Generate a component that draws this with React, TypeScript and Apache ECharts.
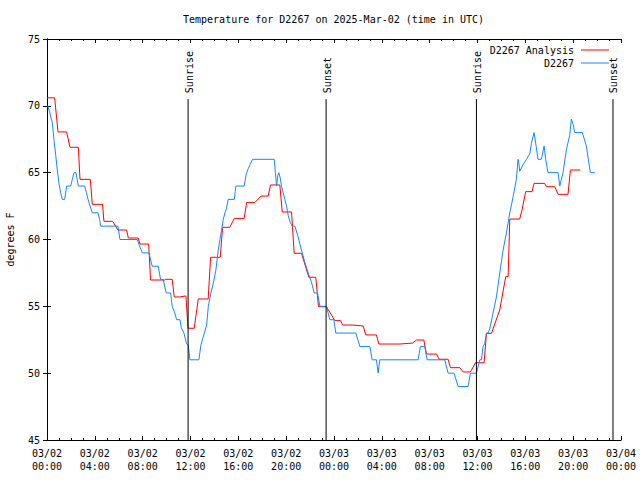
import React, { useEffect, useRef } from "react";
import * as echarts from "echarts";

const titleText = "Temperature for D2267 on 2025-Mar-02 (time in UTC)";
const seriesNames = ["D2267 Analysis", "D2267"];
const xTickLabels = [
  "03/02\n00:00", "03/02\n04:00", "03/02\n08:00", "03/02\n12:00", "03/02\n16:00", "03/02\n20:00",
  "03/03\n00:00", "03/03\n04:00", "03/03\n08:00", "03/03\n12:00", "03/03\n16:00", "03/03\n20:00",
  "03/04\n00:00",
];
const sunHours = [11.8, 23.34, 35.91, 47.33];
const sunLabels = ["Sunrise", "Sunset", "Sunrise", "Sunset"];

// [hours since 03/02 00:00 UTC, degrees F]
const analysisData: [number, number][] = [
  [0, 70.6], [0.64, 70.6], [0.92, 68.05], [1.64, 68.05], [1.92, 66.9], [2.62, 66.9], [2.76, 64.5],
  [3.62, 64.5], [3.79, 62.63], [4.65, 62.63], [4.76, 61.36], [5.49, 61.36], [5.93, 60.71], [6.66, 60.71],
  [6.8, 60.11], [7.63, 60.11], [7.77, 59.66], [8.5, 59.66], [8.66, 56.97], [9.83, 56.97], [9.9, 57.02],
  [10.47, 57.02], [10.64, 55.7], [11.12, 55.7], [11.53, 55.77], [11.62, 55.77], [11.79, 53.36],
  [12.31, 53.36], [12.65, 55.55], [13.48, 55.55], [13.68, 58.67], [14.49, 58.67], [14.68, 60.91],
  [15.29, 60.91], [15.66, 61.58], [16.49, 61.58], [16.69, 62.76], [17.38, 62.76], [17.89, 63.25],
  [18.5, 63.25], [18.69, 64.08], [19.47, 64.08], [19.67, 62.06], [20.45, 62.06], [20.67, 58.97],
  [21.28, 58.97], [21.9, 57.17], [22.48, 57.17], [22.7, 54.97], [23.37, 54.97], [24.08, 53.93],
  [24.55, 53.93], [24.72, 53.6], [25.6, 53.6], [26.44, 53.53], [26.66, 52.86], [27.55, 52.86],
  [27.75, 52.18], [29.5, 52.18], [30.56, 52.25], [30.9, 52.48], [31.51, 52.48], [31.73, 51.43],
  [32.57, 51.43], [32.79, 51.04], [33.54, 51.04], [33.74, 50.41], [34.52, 50.41], [34.8, 50.09],
  [35.41, 50.09], [35.83, 50.78], [36.55, 50.78], [36.75, 52.98], [37.17, 52.98], [37.86, 54.73],
  [38.36, 57.22], [38.56, 57.22], [38.7, 61.53], [39.53, 61.53], [39.72, 62.2], [40.03, 63.58],
  [40.56, 63.58], [40.73, 64.2], [41.62, 64.2], [41.76, 63.95], [42.46, 63.95], [42.74, 63.38],
  [43.57, 63.38], [43.77, 65.2], [44.6, 65.2],
];

const observedData: [number, number][] = [
  [0.05, 70], [0.2, 69.6], [0.45, 68.7], [0.59, 67.4], [0.73, 66.3], [0.86, 65.2], [1.0, 64.2],
  [1.14, 63.5], [1.28, 63], [1.48, 63], [1.64, 64], [1.98, 64], [2.12, 64.5], [2.26, 65], [2.42, 65],
  [2.52, 64.5], [2.62, 64], [3.15, 64], [3.3, 63.5], [3.43, 63], [3.6, 62.5], [3.79, 62], [4.26, 62],
  [4.4, 61.5], [4.49, 61], [5.93, 61], [6.1, 60], [7.55, 60], [7.7, 59.6], [7.97, 59], [8.52, 59],
  [8.8, 58], [9.3, 58], [9.5, 57], [9.72, 57], [9.97, 56], [10.34, 56], [10.47, 55], [10.65, 54.6],
  [10.84, 54], [11.12, 54], [11.23, 53.4], [11.45, 53], [11.67, 52.2], [11.81, 52.1], [11.95, 51],
  [12.7, 51], [12.87, 52.1], [13.12, 52.9], [13.35, 53.6], [13.49, 55], [13.71, 56], [13.9, 56.7],
  [14.12, 57.7], [14.32, 59.2], [14.46, 60], [14.6, 60.7], [14.74, 61.5], [14.88, 62], [15.0, 62.3],
  [15.15, 63], [15.66, 63], [15.74, 63.6], [15.8, 64], [16.49, 64], [16.66, 64.9], [16.83, 65.3],
  [16.98, 65.6], [17.19, 66], [19.0, 66], [19.1, 65], [19.2, 64], [19.3, 64.8], [19.39, 65],
  [19.5, 64.6], [19.61, 64], [19.89, 63], [20.03, 62.5], [20.17, 61.8], [20.33, 61.3], [20.5, 61],
  [20.73, 61], [21.0, 60.2], [21.28, 59.2], [21.56, 58.3], [21.84, 57.5], [22.12, 56.8], [22.34, 56],
  [22.62, 56], [22.82, 55], [23.37, 55], [23.65, 54], [23.99, 54], [24.15, 53], [25.83, 53],
  [26.16, 52], [27.0, 52], [27.19, 51], [27.55, 51], [27.69, 50], [27.83, 51], [31.03, 51],
  [31.23, 52], [31.59, 52], [31.79, 51], [33.26, 51], [33.54, 50], [34.04, 50], [34.38, 49],
  [35.21, 49], [35.41, 50], [35.91, 50], [36.19, 51], [36.33, 51], [36.47, 52], [36.6, 52.2],
  [36.75, 53], [36.88, 53], [37.02, 53.3], [37.3, 54.5], [37.58, 55.7], [37.86, 57.5], [38.14, 59.2],
  [38.42, 60.5], [38.7, 62], [38.98, 63.2], [39.25, 64.5], [39.39, 66], [39.46, 65.7], [39.53, 65.1],
  [39.81, 65.6], [40.09, 66], [40.37, 66.4], [40.51, 67.2], [40.73, 68], [40.9, 67], [41.06, 66],
  [41.34, 66], [41.57, 67], [41.7, 66], [41.9, 65], [42.74, 65], [42.88, 64], [43.15, 65],
  [43.43, 66.7], [43.71, 67.8], [43.85, 69], [44.0, 68.6], [44.13, 68], [44.77, 68], [45.1, 67],
  [45.44, 65], [45.8, 65],
];

const FONT = "'DejaVu Sans Mono', monospace";
const RED = "#ff0000";
const BLUE = "#1588ff";

export default function App() {
  const ref = useRef<HTMLDivElement>(null);
  useEffect(() => {
    if (!ref.current) return;
    const chart = echarts.init(ref.current, undefined, { renderer: "svg" });
    const baseX = {
      type: "value" as const,
      min: 0,
      max: 48,
      interval: 4,
      axisLine: { show: true, lineStyle: { color: "#000", width: 1 } },
      axisTick: { show: true, inside: true, length: 4, lineStyle: { color: "#000" } },
      minorTick: { show: true, splitNumber: 4, length: 2, lineStyle: { color: "#000" } },
      splitLine: { show: false },
    };
    const baseY = {
      type: "value" as const,
      min: 45,
      max: 75,
      interval: 5,
      axisLine: { show: true, lineStyle: { color: "#000", width: 1 } },
      axisTick: { show: true, inside: true, length: 4, lineStyle: { color: "#000" } },
      splitLine: { show: false },
    };
    chart.setOption({
      animation: false,
      backgroundColor: "#fff",
      title: {
        text: titleText,
        left: 183,
        top: 14,
        padding: 0,
        textStyle: { fontFamily: FONT, fontSize: 10, fontWeight: "normal", color: "#000" },
      },
      legend: {
        data: seriesNames,
        orient: "vertical",
        right: 31,
        top: 44,
        padding: 0,
        itemGap: 1,
        align: "right",
        icon: "rect",
        itemWidth: 28,
        itemHeight: 1,
        textStyle: { fontFamily: FONT, fontSize: 10, color: "#000", lineHeight: 12, padding: [0, 2, 0, 0] },
      },
      grid: {
        left: 47,
        right: 19,
        top: 39,
        bottom: 40,
        containLabel: false,
        outerBoundsMode: "none",
      },
      xAxis: [
        {
          ...baseX,
          position: "bottom",
          axisLabel: {
            show: true,
            margin: 7,
            showMinLabel: true,
            showMaxLabel: true,
            fontFamily: FONT,
            fontSize: 10,
            color: "#000",
            lineHeight: 13,
            formatter: (v: number) => xTickLabels[Math.round(v / 4)] ?? "",
          },
        },
        { ...baseX, position: "top", axisLabel: { show: false } },
      ],
      yAxis: [
        {
          ...baseY,
          position: "left",
          name: "degrees F",
          nameLocation: "middle",
          nameGap: 32,
          nameRotate: 90,
          nameTextStyle: { fontFamily: FONT, fontSize: 10, color: "#000" },
          axisLabel: { show: true, margin: 7, fontFamily: FONT, fontSize: 10, color: "#000" },
        },
        { ...baseY, position: "right", axisLabel: { show: false } },
      ],
      series: [
        {
          name: seriesNames[0],
          type: "line",
          data: analysisData,
          showSymbol: false,
          symbol: "none",
          lineStyle: { color: RED, width: 1 },
          itemStyle: { color: RED },
          z: 2,
        },
        {
          name: seriesNames[1],
          type: "line",
          data: observedData,
          showSymbol: false,
          symbol: "none",
          lineStyle: { color: BLUE, width: 1 },
          itemStyle: { color: BLUE },
          z: 3,
        },
        {
          type: "custom",
          name: "sun",
          data: sunHours.map((h, i) => [h, 70.5, i]),
          encode: { x: 0, y: 1 },
          z: 4,
          renderItem: (params: any, api: any) => {
            const h = api.value(0);
            const idx = api.value(2);
            const top = api.coord([h, 70.5]);
            const bottom = api.coord([h, 45]);
            return {
              type: "group",
              children: [
                {
                  type: "line",
                  shape: { x1: top[0], y1: top[1], x2: bottom[0], y2: bottom[1] },
                  style: { stroke: "#000", lineWidth: 1 },
                },
                {
                  type: "text",
                  x: top[0] + 1,
                  y: top[1] - 6,
                  rotation: Math.PI / 2,
                  style: {
                    text: sunLabels[idx],
                    fontFamily: FONT,
                    fontSize: 10,
                    fill: "#000",
                    align: "left",
                    verticalAlign: "middle",
                  },
                },
              ],
            };
          },
        },
      ],
    });
    return () => chart.dispose();
  }, []);
  return (
    <div
      ref={ref}
      style={{ position: "fixed", left: 0, top: 0, width: 640, height: 480, background: "#fff" }}
    />
  );
}
